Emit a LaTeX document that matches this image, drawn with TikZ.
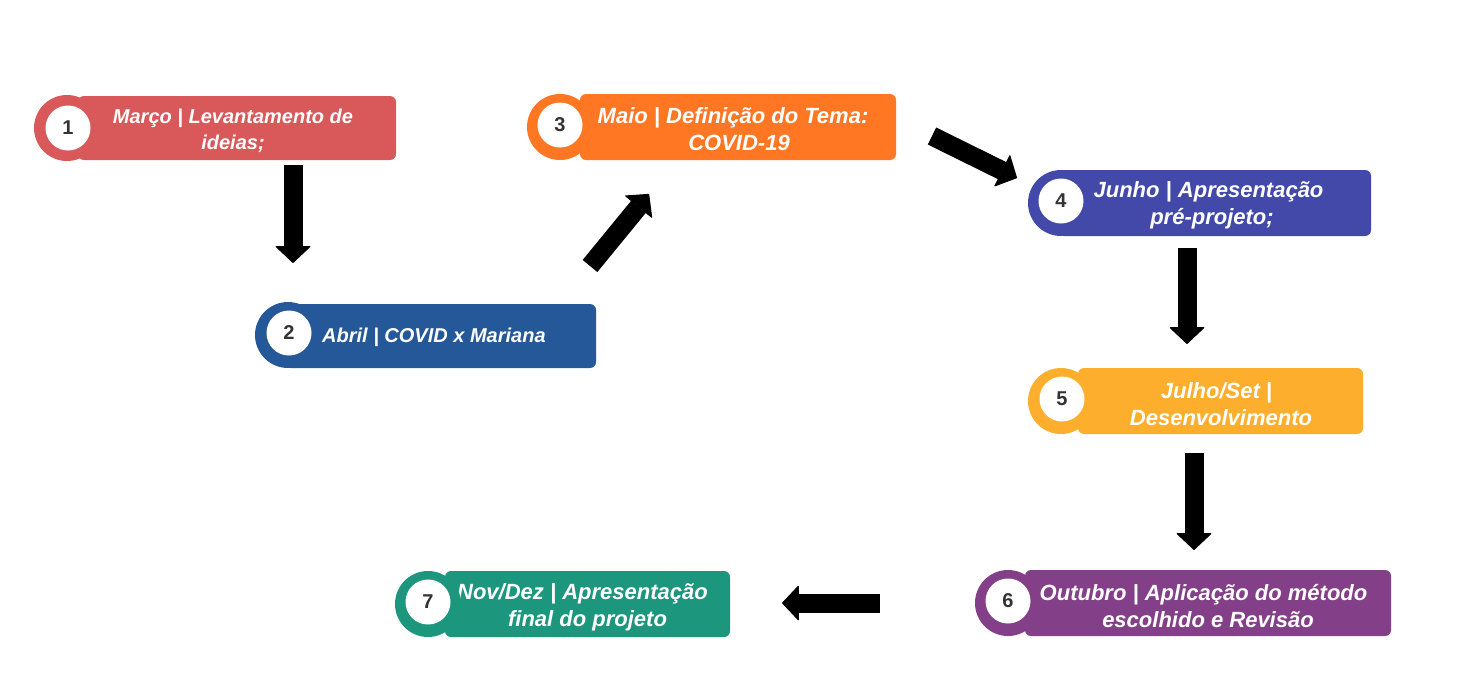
\documentclass[tikz,border=0pt]{standalone}
\usepackage{fontspec}
\setmainfont{Liberation Sans}
\usetikzlibrary{arrows.meta}
\definecolor{cA}{HTML}{D9585A}
\definecolor{cB}{HTML}{245898}
\definecolor{cC}{HTML}{FF7722}
\definecolor{cD}{HTML}{4349A8}
\definecolor{cE}{HTML}{FDAE2C}
\definecolor{cF}{HTML}{833F87}
\definecolor{cG}{HTML}{1C967D}
\definecolor{numgrey}{HTML}{333333}
\tikzset{
  stepbox/.style={rectangle, rounded corners=6pt, inner sep=0pt, draw=none},
  ring/.style={circle, minimum size=66pt, inner sep=0pt, draw=none},
  numdisc/.style={circle, fill=white, minimum size=45pt, inner sep=0pt,
    text=numgrey, font=\fontsize{20}{21}\selectfont\bfseries},
  label/.style={text=white, align=center, inner sep=0pt,
    font=\fontsize{20}{26.5}\selectfont\bfseries\itshape},
  biglabel/.style={label, font=\fontsize{22}{27}\selectfont\bfseries\itshape},
  flow/.style={line width=19pt, black,
    -{Triangle[length=17pt,width=36pt,line width=1pt,round]}}
}
\begin{document}
\begin{tikzpicture}[x=1pt,y=-1pt]
\useasboundingbox (0,0) rectangle (1459,689);
\fill[white] (0,0) rectangle (1459,689);

% step 1
\node[stepbox, fill=cA, minimum width=318pt, minimum height=64pt] (b1) at (237,128) {};
\node[label] (t1) at (233,131) {Março | Levantamento de\\ideias;};
\node[ring, fill=cA] (r1) at (67,128) {};
\node[numdisc] (n1) at (68,128) {1};

% step 2
\node[stepbox, fill=cB, minimum width=311pt, minimum height=64pt] (b2) at (440.5,336) {};
\node[label, anchor=west] (t2) at (322,337) {Abril | COVID x Mariana};
\node[ring, fill=cB] (r2) at (288,335) {};
\node[numdisc] (n2) at (289,333) {2};

% step 3
\node[stepbox, fill=cC, minimum width=316pt, minimum height=66pt] (b3) at (738,127) {};
\node[biglabel] (t3) at (733,129.5) {Maio | Definição do Tema:\\\hspace*{12pt}COVID-19};
\node[ring, fill=cC] (r3) at (560,127) {};
\node[numdisc] (n3) at (560,125) {3};

% step 4
\node[stepbox, fill=cD, minimum width=313pt, minimum height=66pt] (b4) at (1214.5,203) {};
\node[biglabel] (t4) at (1208.5,205.5) {Junho | Apresentação\\\hspace*{7pt}pré-projeto;};
\node[ring, fill=cD] (r4) at (1061,203) {};
\node[numdisc] (n4) at (1061,201) {4};

% step 5
\node[stepbox, fill=cE, minimum width=285pt, minimum height=66pt] (b5) at (1220.5,401) {};
\node[biglabel] (t5) at (1221,404.5) {\hspace*{-9pt}Julho/Set |\\Desenvolvimento};
\node[ring, fill=cE] (r5) at (1061,401) {};
\node[numdisc] (n5) at (1062,399) {5};

% step 6
\node[stepbox, fill=cF, minimum width=366pt, minimum height=66pt] (b6) at (1208,603) {};
\node[biglabel] (t6) at (1203.5,606.5) {Outubro | Aplicação do método\\\hspace*{9pt}escolhido e Revisão};
\node[ring, fill=cF] (r6) at (1008,603) {};
\node[numdisc] (n6) at (1008,601) {6};

% step 7
\node[stepbox, fill=cG, minimum width=285pt, minimum height=66pt] (b7) at (587.5,604) {};
\node[biglabel] (t7) at (582.5,607) {Nov/Dez | Apresentação\\\hspace*{10pt}final do projeto};
\node[ring, fill=cG] (r7) at (428,604) {};
\node[numdisc] (n7) at (428,602) {7};

% connectors between steps
\coordinate (s12) at (293,165);  \coordinate (e12) at (293,263);
\coordinate (s23) at (590,266);  \coordinate (e23) at (649,194);
\coordinate (s34) at (932,136);  \coordinate (e34) at (1017,178);
\coordinate (s45) at (1187,248); \coordinate (e45) at (1187,344);
\coordinate (s56) at (1194,453); \coordinate (e56) at (1194,550);
\coordinate (s67) at (880,603);  \coordinate (e67) at (782,603);
\draw[flow] (s12) -- (e12);
\draw[flow] (s23) -- (e23);
\draw[flow] (s34) -- (e34);
\draw[flow] (s45) -- (e45);
\draw[flow] (s56) -- (e56);
\draw[flow] (s67) -- (e67);
\end{tikzpicture}
\end{document}
